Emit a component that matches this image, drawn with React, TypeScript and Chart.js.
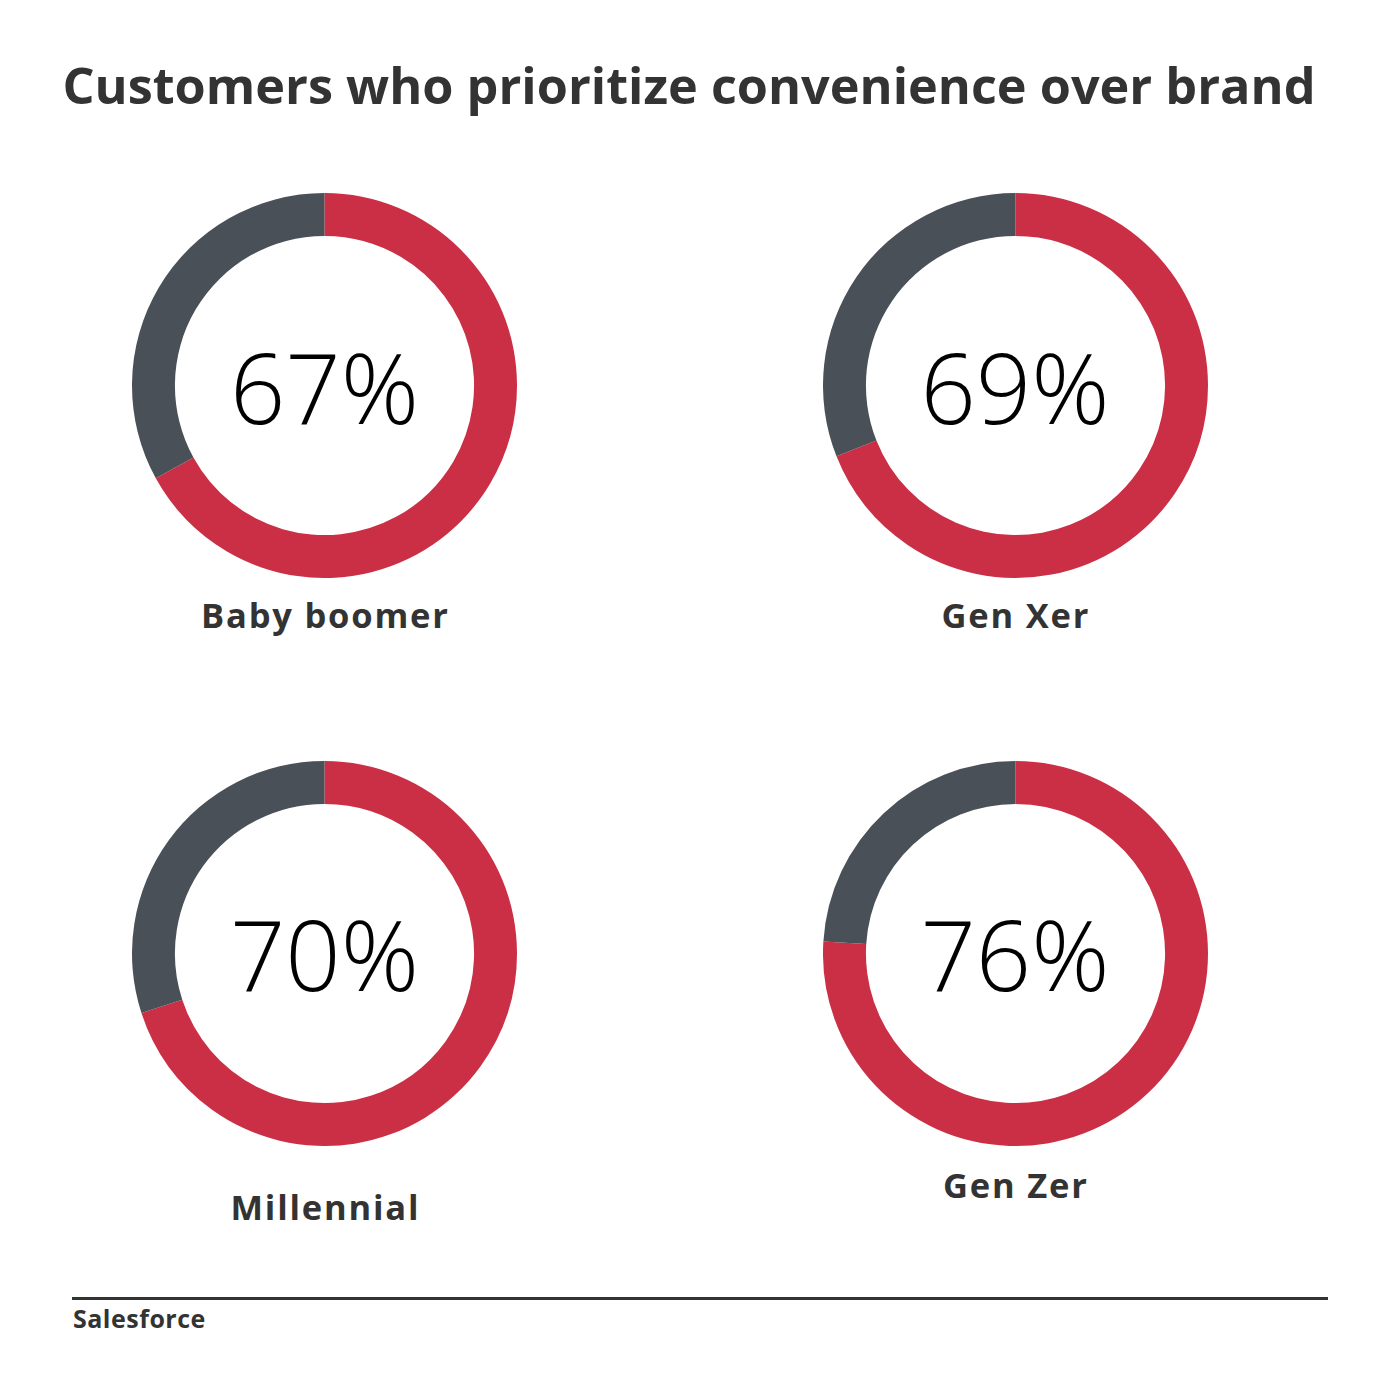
import React, { useEffect, useRef } from "react";
import { Chart, registerables } from "chart.js";

Chart.register(...registerables);

const title = "Customers who prioritize convenience over brand";
const categories = ["Baby boomer", "Gen Xer", "Millennial", "Gen Zer"];
const convenienceShare = [67, 69, 70, 76];
const otherShare = [33, 31, 30, 24];
const segmentLabels = ["Prioritize convenience", "Other"];
const source = "Salesforce";

const RED = "#CB2F45";
const GRAY = "#4A5057";
const TEXT = "#333333";

const centers = [
  { x: 324.5, y: 385.5, labelY: 615 },
  { x: 1015, y: 385.5, labelY: 615 },
  { x: 324.5, y: 953, labelY: 1207 },
  { x: 1015, y: 953, labelY: 1185 },
];
const DIAM = 385;

function Ring({ index }: { index: number }) {
  const ref = useRef<HTMLCanvasElement | null>(null);
  useEffect(() => {
    if (!ref.current) return;
    const chart = new Chart(ref.current, {
      type: "doughnut",
      data: {
        labels: segmentLabels,
        datasets: [
          {
            data: [convenienceShare[index], otherShare[index]],
            backgroundColor: [RED, GRAY],
            borderWidth: 0,
          },
        ],
      },
      options: {
        responsive: false,
        animation: false,
        cutout: "77.7%",
        layout: { padding: 0 },
        plugins: { legend: { display: false }, tooltip: { enabled: false } },
      },
    });
    return () => chart.destroy();
  }, [index]);
  const c = centers[index];
  return (
    <>
      <canvas
        ref={ref}
        width={DIAM}
        height={DIAM}
        style={{ position: "absolute", left: c.x - DIAM / 2, top: c.y - DIAM / 2, width: DIAM, height: DIAM }}
      />
      <div
        style={{
          position: "absolute",
          left: c.x - 200,
          width: 400,
          top: c.y - 60,
          height: 120,
          lineHeight: "120px",
          textAlign: "center",
          fontFamily: "'Open Sans', sans-serif",
          fontWeight: 300,
          fontSize: 97,
          color: "#000",
        }}
      >
        {convenienceShare[index]}%
      </div>
      <div
        style={{
          position: "absolute",
          left: c.x - 200,
          width: 400,
          top: c.labelY - 25,
          height: 50,
          lineHeight: "50px",
          textAlign: "center",
          fontFamily: "'Open Sans', sans-serif",
          fontWeight: 700,
          fontSize: 34.5,
          letterSpacing: "1.8px",
          paddingLeft: "1.8px",
          boxSizing: "border-box",
          color: TEXT,
        }}
      >
        {categories[index]}
      </div>
    </>
  );
}

export default function App() {
  return (
    <div style={{ position: "absolute", left: 0, top: 0, width: 1400, height: 1400, background: "#fff", overflow: "hidden" }}>
      <div
        style={{
          position: "absolute",
          left: 0,
          width: 1378,
          top: 50,
          height: 70,
          lineHeight: "70px",
          textAlign: "center",
          fontFamily: "'Open Sans', sans-serif",
          fontWeight: 700,
          fontSize: 50.4,
          color: TEXT,
        }}
      >
        {title}
      </div>
      {categories.map((_, i) => (
        <Ring key={i} index={i} />
      ))}
      <div style={{ position: "absolute", left: 72, top: 1297, width: 1256, height: 3, background: TEXT }} />
      <div
        style={{
          position: "absolute",
          left: 73,
          top: 1302,
          lineHeight: "32px",
          fontFamily: "'Open Sans', sans-serif",
          fontWeight: 700,
          fontSize: 25,
          letterSpacing: "0.5px",
          color: TEXT,
        }}
      >
        {source}
      </div>
    </div>
  );
}
